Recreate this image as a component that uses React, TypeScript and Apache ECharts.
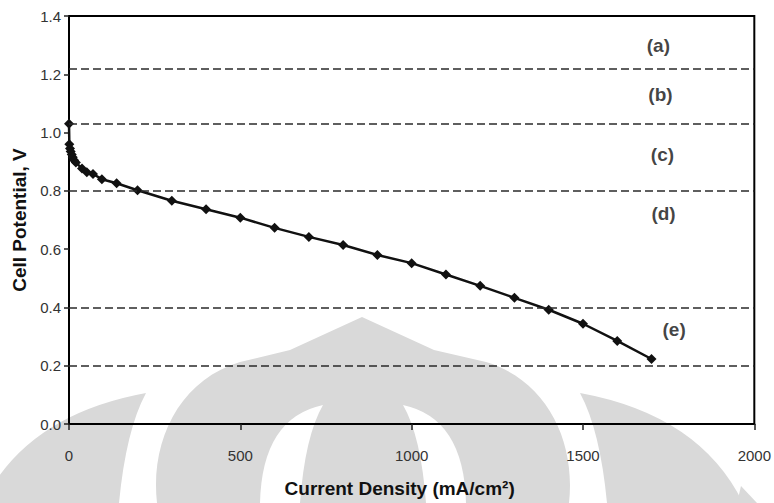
import React, { useEffect, useRef } from "react";
import * as echarts from "echarts";

// ---- data ----
const currentDensity = [
  0, 1, 3, 5, 8, 11, 15, 20, 38, 52, 70, 96, 139, 200, 300, 400, 500, 600, 700, 800,
  900, 1000, 1100, 1200, 1300, 1400, 1500, 1600, 1700,
];
const cellPotential = [
  1.03, 0.96, 0.945, 0.935, 0.925, 0.915, 0.905, 0.897, 0.877, 0.864, 0.858, 0.84, 0.826,
  0.802, 0.766, 0.737, 0.708, 0.673, 0.642, 0.614, 0.58, 0.552, 0.513, 0.474, 0.433, 0.392,
  0.344, 0.285, 0.223,
];
const regionBoundaries = [1.22, 1.035, 0.8, 0.4, 0.2];
const regionLabels = ["(a)", "(b)", "(c)", "(d)", "(e)"];
const regionLabelX = [1720, 1726, 1732, 1735, 1766];
const regionLabelY = [1.3, 1.131, 0.925, 0.723, 0.325];

// ---- background watermark outlines (decoration, screen coordinates) ----
const WM_RING =
  "M157 503 C150 440 180 380 240 362 L290 350 L362 317 L434 350 L486 362 C546 380 576 440 569 503 Z";
const WM_HOLE_L = "M323 405 Q262 418 260 503 L300 503 Q305 436 323 405 Z";
const WM_HOLE_R = "M403 405 Q464 418 466 503 L426 503 Q421 436 403 405 Z";
const WM_SIDE_R = "M580 393 Q700 415 743 503 L607 503 Q600 430 580 393 Z";
const WM_SIDE_L = "M146 393 Q26 415 -17 503 L119 503 Q126 430 146 393 Z";
const WM_TIP = "M741 486 L757 503 L737 503 Z";

let registered = false;
function registerShapes() {
  if (registered) return;
  registered = true;
  const g: any = echarts.graphic;
  g.registerShape("wmRing", g.extendPath(WM_RING, {}));
  g.registerShape("wmHoleL", g.extendPath(WM_HOLE_L, {}));
  g.registerShape("wmHoleR", g.extendPath(WM_HOLE_R, {}));
  g.registerShape("wmSideR", g.extendPath(WM_SIDE_R, {}));
  g.registerShape("wmSideL", g.extendPath(WM_SIDE_L, {}));
  g.registerShape("wmTip", g.extendPath(WM_TIP, {}));
}

const FONT = "'Liberation Sans', Arial, sans-serif";

export default function App() {
  const ref = useRef<HTMLDivElement>(null);

  useEffect(() => {
    document.body.style.margin = "0";
    registerShapes();
    const chart = echarts.init(ref.current!, undefined, { renderer: "svg" });
    const gray = "#d9d9d9";
    const wm = (type: string, fill: string, z: number) => ({
      type,
      x: 0,
      y: 0,
      z,
      silent: true,
      style: { fill },
    });

    chart.setOption({
      animation: false,
      backgroundColor: "#ffffff",
      graphic: [
        wm("wmRing", gray, -10),
        wm("wmSideR", gray, -10),
        wm("wmSideL", gray, -10),
        wm("wmTip", gray, -10),
        wm("wmHoleL", "#ffffff", -9),
        wm("wmHoleR", "#ffffff", -9),
      ],
      grid: {
        left: 69,
        top: 16,
        width: 690,
        height: 408,
        show: true,
        borderColor: "#000",
        borderWidth: 2,
        backgroundColor: "transparent",
      },
      xAxis: {
        type: "value",
        min: 0,
        max: 2000,
        interval: 500,
        name: "Current Density (mA/cm²)",
        nameLocation: "middle",
        nameGap: 55,
        nameTextStyle: {
          fontFamily: FONT,
          fontSize: 19,
          fontWeight: "bold",
          color: "#111",
          padding: [0, 24, 0, 0],
        },
        axisLine: { lineStyle: { color: "#000", width: 2 } },
        axisTick: { length: 6, lineStyle: { color: "#222", width: 1.5 } },
        axisLabel: {
          margin: 24,
          fontFamily: FONT,
          fontSize: 15,
          color: "#333",
          formatter: (v: number) => String(v),
        },
        splitLine: { show: false },
      },
      yAxis: {
        type: "value",
        min: 0,
        max: 1.4,
        interval: 0.2,
        name: "Cell Potential, V",
        nameLocation: "middle",
        nameGap: 37,
        nameTextStyle: {
          fontFamily: FONT,
          fontSize: 19,
          fontWeight: "bold",
          color: "#111",
        },
        axisLine: { lineStyle: { color: "#000", width: 2 } },
        axisTick: { length: 5, lineStyle: { color: "#222", width: 1.5 } },
        axisLabel: {
          margin: 8,
          fontFamily: FONT,
          fontSize: 15,
          color: "#333",
          formatter: (v: number) => v.toFixed(1),
        },
        splitLine: { show: false },
      },
      series: [
        {
          type: "line",
          data: currentDensity.map((x, i) => [x, cellPotential[i]]),
          symbol: "diamond",
          symbolSize: 10,
          itemStyle: { color: "#111" },
          lineStyle: { color: "#111", width: 2.5 },
          z: 3,
          markLine: {
            silent: true,
            symbol: ["none", "none"],
            label: { show: false },
            lineStyle: { color: "#2a2a2a", type: [8, 4], width: 1.6 },
            data: regionBoundaries.map((v) => ({ yAxis: v })),
          },
        },
        {
          type: "scatter",
          data: regionLabelX.map((x, i) => [x, regionLabelY[i]]),
          symbolSize: 1,
          itemStyle: { color: "transparent" },
          silent: true,
          label: {
            show: true,
            position: "inside",
            formatter: (p: any) => regionLabels[p.dataIndex],
            fontFamily: FONT,
            fontSize: 19,
            fontWeight: "bold",
            color: "#111",
          },
        },
      ],
    });
    return () => chart.dispose();
  }, []);

  return <div ref={ref} style={{ width: 774, height: 503 }} />;
}
